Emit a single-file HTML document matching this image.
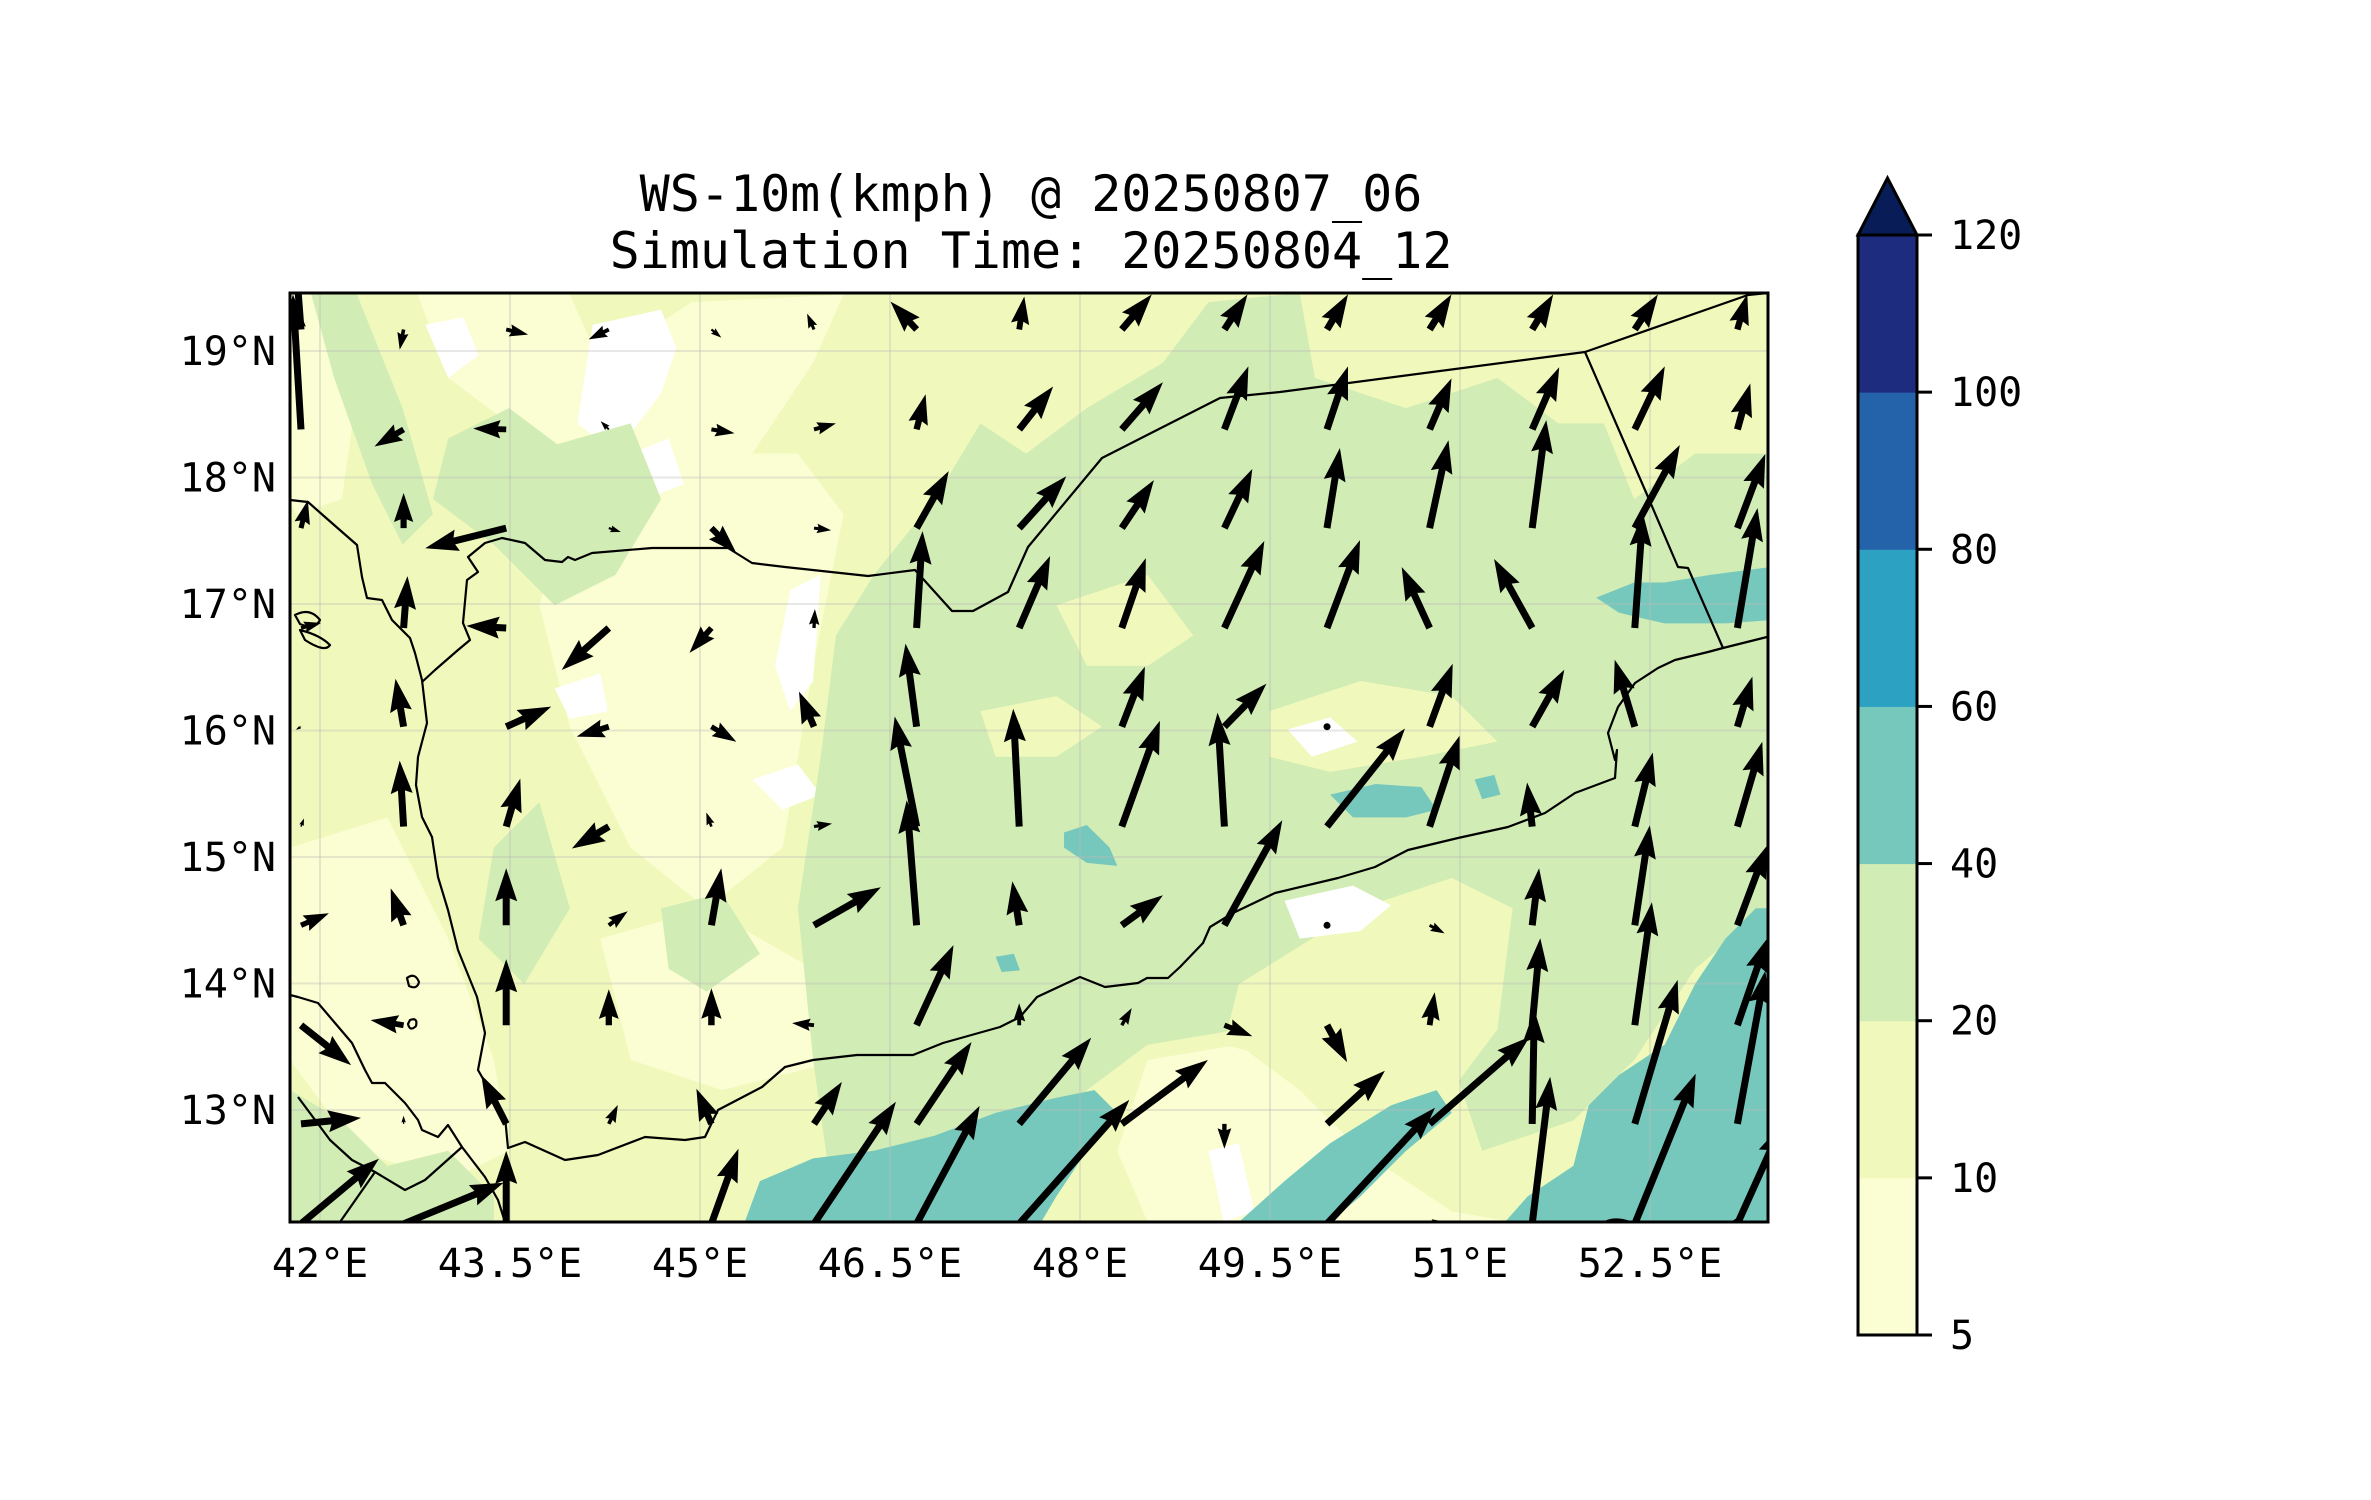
<!DOCTYPE html>
<html><head><meta charset="utf-8"><style>
html,body{margin:0;padding:0;background:#fff;}
svg{display:block;font-family:"DejaVu Sans Mono","Liberation Mono",monospace;}
</style></head><body>
<svg id="fig" width="2371" height="1500" viewBox="0 0 2371 1500" xmlns="http://www.w3.org/2000/svg">
<defs><clipPath id="mapclip"><rect x="290" y="293" width="1478" height="929"/></clipPath></defs>
<text x="1031" y="211" font-size="50" text-anchor="middle">WS-10m(kmph) @ 20250807_06</text>
<text x="1031" y="268" font-size="50" text-anchor="middle">Simulation Time: 20250804_12</text>
<g clip-path="url(#mapclip)">
<rect x="290" y="293" width="1478" height="929" fill="#f0f9bb"/>
<g transform="matrix(1.5206,0,0,1.5155,-8,-1)">
<g fill="#fbfed3">
<polygon points="196,195 215,195 240,260 230,330 200,340 196,330"/>
<polygon points="280,195 380,195 400,240 460,200 560,195 540,240 500,300 460,330 420,340 380,310 340,280 300,250"/>
<polygon points="380,330 470,300 530,300 560,340 540,440 520,560 470,600 420,560 380,480 360,400"/>
<polygon points="196,560 260,540 300,620 330,700 340,760 300,780 240,760 196,700"/>
<polygon points="400,620 470,600 540,640 560,700 480,720 420,700"/>
<polygon points="760,700 820,690 860,720 900,760 960,800 1000,807 760,807 740,760"/>
<polygon points="860,570 940,560 990,590 970,640 900,640 850,620"/>
</g>
<g fill="#ffffff">
<polygon points="285,215 310,210 320,235 300,250"/>
<polygon points="395,215 440,205 450,230 440,260 410,300 385,280"/>
<polygon points="420,300 445,290 455,320 430,330"/>
<polygon points="525,390 545,380 540,450 525,470 515,440"/>
<polygon points="500,515 530,505 545,525 520,535"/>
<polygon points="850,595 895,580 925,595 905,615 860,625"/>
<polygon points="800,760 820,755 830,800 810,807"/>
<polygon points="370,455 400,445 405,470 380,475"/>
</g>
<g fill="#d1ecb4">
<polygon points="210,195 240,195 270,270 290,340 270,360 250,320 225,250"/>
<polygon points="350,300 420,280 440,330 410,380 370,400 330,360"/>
<polygon points="300,290 340,270 380,300 370,350 330,360 290,330"/>
<polygon points="196,720 230,740 260,770 300,760 330,790 330,807 196,807"/>
<polygon points="330,560 360,530 380,600 350,650 320,620"/>
<polygon points="440,600 480,590 505,630 470,655 445,640"/>
<polygon points="555,420 580,380 620,330 650,280 680,300 720,270 770,240 800,200 860,194 870,250 930,270 990,250 1030,280 1060,280 1080,330 1120,300 1168,300 1168,600 1120,640 1080,700 1040,740 980,760 960,700 900,720 860,700 820,680 760,690 720,720 690,760 640,780 600,800 555,807 540,700 530,600 545,500"/>
</g>
<g fill="#f0f9bb">
<polygon points="820,650 900,600 960,580 1000,600 990,680 960,720 900,720 850,700 810,690"/>
<polygon points="650,470 700,460 730,480 700,500 660,500"/>
<polygon points="840,470 900,450 960,460 990,490 940,500 880,510 840,500"/>
<polygon points="700,400 760,380 790,420 760,440 720,440"/>
</g>
<g fill="#ffffff">
<polygon points="850,595 895,585 920,598 900,615 860,620"/>
<polygon points="852,482 880,474 898,490 868,500"/>
</g>
<g fill="#76c8bc">
<polygon points="495,807 505,780 540,765 580,760 620,750 660,735 700,725 725,720 740,735 720,760 700,790 690,807"/>
<polygon points="820,807 850,780 880,755 920,730 950,720 960,735 930,760 900,790 880,807"/>
<polygon points="995,807 1010,790 1040,770 1050,730 1070,710 1100,690 1120,650 1140,620 1160,600 1168,600 1168,807"/>
<polygon points="1055,395 1080,385 1100,385 1130,380 1168,375 1168,410 1140,412 1100,412 1070,405"/>
<polygon points="705,550 720,545 735,560 740,572 720,570 705,560"/>
<polygon points="880,525 910,518 940,520 950,535 930,540 895,540"/>
<polygon points="975,515 988,512 992,525 980,528"/>
<polygon points="660,632 672,630 676,641 664,642"/>
</g>
</g>
<g id="grid"></g>
<g fill="none" stroke="#000" stroke-width="2.2" stroke-linejoin="round">
<polyline points="422,682 435,670 458,650 470,640 463,623 467,580 478,572 468,557 485,543 502,538 525,543 545,560 562,562 568,557 575,560 592,553 652,548 728,548 752,563 785,567 868,576 915,570 952,611 973,611 1008,592 1028,547 1102,458 1220,398 1280,392 1585,352 1748,295 1768,293"/>
<polyline points="1585,352 1645,490 1678,567 1688,568 1723,648 1767,637"/>
<polyline points="1723,648 1708,652 1675,660 1658,668 1635,683 1618,707 1608,733 1615,760 1617,750 1615,778 1575,793 1545,813 1508,827 1458,838 1408,850 1375,867 1338,878 1275,893 1233,913 1210,927 1203,943 1180,967 1168,978 1147,978 1138,983 1105,987 1080,977 1067,983 1037,997 1020,1017 1000,1027 943,1043 913,1055 857,1055 813,1060 785,1067 762,1087 718,1110 705,1137 685,1140 645,1137 598,1155 565,1160 525,1142 508,1148 505,1117 478,1070 485,1033 477,997 458,950 448,910 438,877 432,837 422,817 416,785 418,757 427,723 422,680 415,653 410,638 392,620 382,600 367,598 362,577 357,545 325,517 308,502 290,500"/>
<polyline points="290,995 298,997 318,1003 335,1023 352,1043 365,1070 372,1083 385,1083 405,1103 418,1120 422,1130 438,1137 448,1125 462,1147 485,1177 498,1200 505,1222"/>
<polyline points="298,1097 330,1140 352,1160 375,1172 405,1190 425,1180 462,1147"/>
<polyline points="340,1222 375,1172"/>
<path d="M295,615 q15,-8 25,5 q-5,10 -20,4 z M300,630 q20,5 30,15 q-5,8 -25,-5 z M407,978 q8,-6 12,4 q-2,8 -10,4 z M410,1020 q8,-3 6,6 q-6,6 -8,-2 z M1605,1222 q10,-5 25,0 q10,3 5,0 M1733,1222 q5,-5 10,0"/>
</g>
<g id="arrows"></g>
</g>
<rect x="290" y="293" width="1478" height="929" fill="none" stroke="#000" stroke-width="3"/>
<g id="axes" font-size="40"></g>
<g id="cbar" font-size="40"></g>
</svg>
<script>
const NS = "http://www.w3.org/2000/svg";
// ---- data ----
const lons = [41.85, 42.66, 43.47, 44.28, 45.09, 45.90, 46.71, 47.52, 48.33, 49.14, 49.95, 50.76, 51.57, 52.38, 53.19];
const lats = [19.17, 18.38, 17.60, 16.81, 16.03, 15.24, 14.46, 13.67, 12.89, 12.10];
const U = [
 [-3.3,-1.3,7.3,-6.7,3.3,-2.3,-8.7,1.7,10,7.7,7,7.3,7,7.7,3.3],
 [-2.7,-9.7,-11,-2.7,7.7,7.3,3,11.3,13.7,8,7,7.3,9,10,4.3],
 [2.3,0,-27,4,8.3,5.7,10.7,15.7,10.7,9.3,4.3,6.3,4.7,15,9.3],
 [6.7,1.3,-13.3,-15.7,-7.3,0.3,2,10.3,8,13.3,11,-9.3,-12.7,2.7,6.7],
 [-1.7,-2.7,15,-10.7,8.3,-5,-3.7,0,7.7,14,0,7.7,10.7,-6.7,5],
 [1,-1.3,4.7,-12.3,-1.7,6,-7.3,-2,12.7,-2.3,26,10,-1.7,6,8.3],
 [9.3,-4.3,0,6.3,3.3,22.3,-3.3,-2.3,13.7,19.3,0,5,2.3,5,10],
 [16.7,-11,0,0,0,-7.3,12.3,0,3.3,9.3,6.7,1.7,2.7,5.7,10],
 [20,0,-8.3,3,-5,9.3,18.3,24,28.7,0,19.3,33.3,0.7,14.3,9.3],
 [26,33.3,0,3.3,9,27.3,21,36.7,1,0,36,5,6,20.3,15]
];
const V = [
 [43.3,-6.7,-1.7,-3.3,-2.7,5.3,9.3,11,11.7,11.7,11.7,11.7,11.7,11.7,11.7],
 [45,-5.7,0.3,2.7,-1.3,2,11.7,14.3,15.7,21,21,17,20.7,21,15.3],
 [9.3,11.7,-6.7,-1.3,-8.3,-0.7,19,17.3,16,19.7,26.7,29.3,36,27.7,24.7],
 [1.7,17.3,0.7,-14,-8.3,6.3,32.3,24,23.3,29,29.3,20.3,23,38.3,40],
 [-1,16,6.7,-3.3,-5,11.7,27.7,1,20,14.3,0,21,19,22.3,16.7],
 [2.7,22,16,-7.3,4.7,1,36.7,39.3,35.3,38,32.7,30.3,14.7,24.7,28.3],
 [4,12.3,19,4.7,19,12.7,41.7,14.7,10,35,0,-2.7,19,33.3,26.7],
 [-13.3,1.7,22,12,12.3,0.7,26.7,7.3,5.7,-3.7,-12.3,11,29,41,29],
 [2,2.7,16.3,6.3,11.7,14,27.3,28.7,21.3,-8.3,17.7,29,38,48,51],
 [21.7,13.7,24.3,0.7,25,40.7,39.3,41.3,0,1,38.7,0.7,49,50,33.3]
];
const lonTicks = [42, 43.5, 45, 46.5, 48, 49.5, 51, 52.5];
const lonTickLabels = ["42°E","43.5°E","45°E","46.5°E","48°E","49.5°E","51°E","52.5°E"];
const latTicks = [13, 14, 15, 16, 17, 18, 19];
const latTickLabels = ["13°N","14°N","15°N","16°N","17°N","18°N","19°N"];
const cbarLevels = [5, 10, 20, 40, 60, 80, 100, 120];
const cbarColors = ["#fbfed3","#f0f9bb","#d1ecb4","#76c8bc","#2ca1c2","#2463aa","#1e2c80"];
const cbarOverColor = "#081d58";
// ---- axis functions ----
function xLon(lon){ return 320 + (lon - 42) * 126.67; }
function yLat(lat){ return 351 + (19 - lat) * 126.5; }
const pxPerUnit = 3.0;
function mk(tag, attrs){ const e = document.createElementNS(NS, tag); for (const k in attrs) e.setAttribute(k, attrs[k]); return e; }
const grid = document.getElementById('grid');
lonTicks.forEach(function(t){
  const l = mk('line', {x1:xLon(t), x2:xLon(t), y1:293, y2:1222, stroke:'#bbbbbb', 'stroke-width':2, 'stroke-opacity':0.35});
  
  
  grid.appendChild(l);
});
latTicks.forEach(function(t){
  const l = mk('line', {x1:290, x2:1768, y1:yLat(t), y2:yLat(t), stroke:'#bbbbbb', 'stroke-width':2, 'stroke-opacity':0.35});
  
  
  grid.appendChild(l);
});
const axes = document.getElementById('axes');
lonTicks.forEach(function(t, i){
  const tx = mk('text', {x:xLon(t), y:1277, 'text-anchor':'middle'});
  tx.textContent = lonTickLabels[i];
  
  
  axes.appendChild(tx);
});
latTicks.forEach(function(t, i){
  const tx = mk('text', {x:276, y:yLat(t) + 14, 'text-anchor':'end'});
  tx.textContent = latTickLabels[i];
  
  
  axes.appendChild(tx);
});
const ag = document.getElementById('arrows');
const W = 7, HL = 33, HAL = 30, HW = 22, MINL = 40;
for (let j = 0; j < lats.length; j++){
  for (let i = 0; i < lons.length; i++){
    const x0 = xLon(lons[i]), y0 = yLat(lats[j]);
    const dx = U[j][i] * pxPerUnit, dy = -V[j][i] * pxPerUnit;
    const L = Math.hypot(dx, dy);
    let el;
    if (L < 3){
      el = mk('circle', {cx:x0, cy:y0, r:3.5, fill:'#000'});
    } else {
      let w = W, hl = HL, hal = HAL, hw = HW;
      if (L < MINL){ const f = L / MINL; w*=f; hl*=f; hal*=f; hw*=f; }
      const pts = [[0,-w/2],[L-hal,-w/2],[L-hl,-hw/2],[L,0],[L-hl,hw/2],[L-hal,w/2],[0,w/2]];
      const ang = Math.atan2(dy, dx) * 180 / Math.PI;
      el = mk('polygon', {points: pts.map(p => p[0].toFixed(2)+','+p[1].toFixed(2)).join(' '), fill:'#000',
        transform:'translate('+x0.toFixed(1)+','+y0.toFixed(1)+') rotate('+ang.toFixed(2)+')'});
    }
    
    
    ag.appendChild(el);
  }
}
const cb = document.getElementById('cbar');
const cbX = 1858, cbW = 59, cbTop = 235, cbBot = 1335;
const segH = (cbBot - cbTop) / cbarColors.length;
function yCb(idx){ return cbBot - idx * segH; }
cbarColors.forEach(function(c, k){
  const r = mk('rect', {x:cbX, y:yCb(k+1), width:cbW, height:segH+0.5, fill:c});
  
  
  cb.appendChild(r);
});
const tri = mk('polygon', {points: cbX+','+cbTop+' '+(cbX+cbW/2)+','+(cbTop-57)+' '+(cbX+cbW)+','+cbTop, fill:cbarOverColor, stroke:'#000', 'stroke-width':3, 'stroke-linejoin':'miter'});


cb.appendChild(tri);
const frame = mk('rect', {x:cbX, y:cbTop, width:cbW, height:cbBot-cbTop, fill:'none', stroke:'#000', 'stroke-width':3});


cb.appendChild(frame);
cbarLevels.forEach(function(v, k){
  const y = yCb(k);
  const tk = mk('line', {x1:cbX+cbW, x2:cbX+cbW+15, y1:y, y2:y, stroke:'#000', 'stroke-width':3});
  
  
  cb.appendChild(tk);
  const tx = mk('text', {x:1950, y:y+14});
  tx.textContent = String(v);
  
  
  cb.appendChild(tx);
});
</script>
</body></html>
